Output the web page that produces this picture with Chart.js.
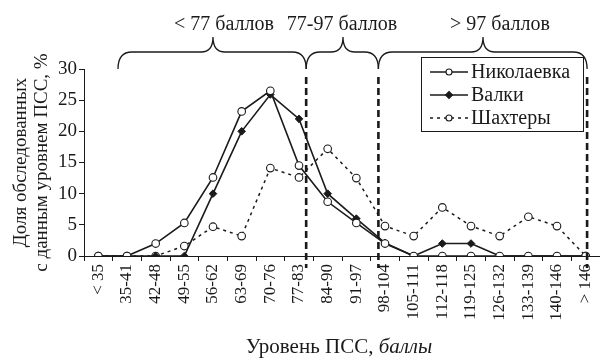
<!DOCTYPE html>
<html lang="ru">
<head>
  <meta charset="UTF-8">
  <title>Уровень ПСС</title>
  <script src="https://cdn.jsdelivr.net/npm/chart.js"></script>
  <style>
    body { margin: 0; background: #fff; }
    #wrap { width: 600px; height: 363px; }
  </style>
</head>
<body>
  <div id="wrap"><canvas id="chart" width="600" height="363"></canvas></div>

  <script>
    // данные
    const categories = ['< 35', '35-41', '42-48', '49-55', '56-62', '63-69', '70-76', '77-83', '84-90',
      '91-97', '98-104', '105-111', '112-118', '119-125', '126-132', '133-139', '140-146', '> 146'];
    const nikolaevka = [0, 0, 2.0, 5.3, 12.6, 23.2, 26.5, 14.5, 8.7, 5.3, 2.0, 0, 0, 0, 0, 0, 0, 0];
    const valki = [0, 0, 0, 0, 10.0, 20.0, 25.9, 22.0, 10.0, 6.0, 2.1, 0, 2.0, 2.0, 0, 0, 0, 0];
    const shakhtery = [0, 0, 0, 1.6, 4.7, 3.2, 14.1, 12.6, 17.2, 12.5, 4.8, 3.2, 7.8, 4.8, 3.2, 6.3, 4.8, 0];
    const seriesNames = ['Николаевка', 'Валки', 'Шахтеры'];
    const groupLabels = ['< 77 баллов', '77-97 баллов', '> 97 баллов'];
    const yTitle = ['Доля обследованных', 'с данным уровнем ПСС, %'];

    const FONT = "'Liberation Serif', 'Times New Roman', serif";
    const INK = '#1a1a1a';

    // скобки над графиком и пунктирные границы групп
    const groupsPlugin = {
      id: 'groups',
      afterDatasetsDraw(chart) {
        const ctx = chart.ctx;
        const x = chart.scales.x;
        const bounds = [7.25, 9.77, 17.05].map(v => x.getPixelForValue(v));
        ctx.save();
        ctx.strokeStyle = INK;
        ctx.lineWidth = 2.6;
        ctx.setLineDash([7, 4]);
        bounds.forEach(px => {
          ctx.beginPath();
          ctx.moveTo(px, 77);
          ctx.lineTo(px, 268);
          ctx.stroke();
        });
        ctx.restore();
      },
      afterDraw(chart) {
        const ctx = chart.ctx;
        const x = chart.scales.x;
        const b = [7.25, 9.77, 17.05].map(v => x.getPixelForValue(v));
        const left = 118;
        const spans = [[left, b[0]], [b[0], b[1]], [b[1], b[2]]];
        const tips = [213, 343, 483];
        const textX = [224, 342, 500];

        ctx.save();
        ctx.strokeStyle = INK;
        ctx.lineWidth = 1.3;
        spans.forEach(([x1, x2], i) => {
          const xt = tips[i], yTop = 52, yTip = 37, yEnd = 69, r = 14, r2 = 12;
          ctx.beginPath();
          ctx.moveTo(x1, yEnd);
          ctx.quadraticCurveTo(x1, yTop, x1 + r, yTop);
          ctx.lineTo(xt - r2, yTop);
          ctx.quadraticCurveTo(xt, yTop, xt, yTip);
          ctx.quadraticCurveTo(xt, yTop, xt + r2, yTop);
          ctx.lineTo(x2 - r, yTop);
          ctx.quadraticCurveTo(x2, yTop, x2, yEnd);
          ctx.stroke();
        });

        ctx.fillStyle = INK;
        ctx.font = '20px ' + FONT;
        ctx.textAlign = 'center';
        ctx.textBaseline = 'middle';
        groupLabels.forEach((t, i) => ctx.fillText(t, textX[i], 25));

        // подпись оси X: "баллы" курсивом
        const a = 'Уровень ПСС, ';
        const c = 'баллы';
        ctx.font = '21px ' + FONT;
        const wa = ctx.measureText(a).width;
        ctx.font = 'italic 21px ' + FONT;
        const wc = ctx.measureText(c).width;
        const sx = 339 - (wa + wc) / 2;
        ctx.textAlign = 'left';
        ctx.textBaseline = 'alphabetic';
        ctx.font = '21px ' + FONT;
        ctx.fillText(a, sx, 353);
        ctx.font = 'italic 21px ' + FONT;
        ctx.fillText(c, sx + wa, 353);

        // легенда
        const box = { l: 421, t: 57, r: 583, b: 131 };
        ctx.fillStyle = '#fff';
        ctx.fillRect(box.l, box.t, box.r - box.l, box.b - box.t);
        ctx.lineWidth = 1;
        ctx.strokeStyle = INK;
        ctx.strokeRect(box.l + 0.5, box.t + 0.5, box.r - box.l, box.b - box.t);
        const rows = [72, 95, 118];
        chart.data.datasets.forEach((ds, i) => {
          const y = rows[i];
          ctx.save();
          ctx.lineWidth = 1.5;
          ctx.setLineDash(ds.borderDash || []);
          ctx.beginPath();
          ctx.moveTo(430, y);
          ctx.lineTo(468, y);
          ctx.stroke();
          ctx.restore();
          ctx.setLineDash([]);
          ctx.lineWidth = 1.1;
          ctx.beginPath();
          if (ds.pointStyle === 'rectRot') {
            ctx.moveTo(449, y - 3.5);
            ctx.lineTo(452.5, y);
            ctx.lineTo(449, y + 3.5);
            ctx.lineTo(445.5, y);
            ctx.closePath();
            ctx.fillStyle = INK;
          } else {
            ctx.arc(449, y, 3, 0, Math.PI * 2);
            ctx.fillStyle = '#fff';
          }
          ctx.fill();
          ctx.stroke();
          ctx.fillStyle = INK;
          ctx.font = '20px ' + FONT;
          ctx.textBaseline = 'middle';
          ctx.fillText(ds.label, 471, y + 1);
        });
        ctx.restore();
      }
    };

    new Chart(document.getElementById('chart').getContext('2d'), {
      type: 'line',
      data: {
        labels: categories,
        datasets: [
          {
            label: seriesNames[0],
            data: nikolaevka,
            borderColor: INK,
            borderWidth: 1.6,
            pointStyle: 'circle',
            pointRadius: 3.8,
            pointBackgroundColor: '#fff',
            pointBorderColor: INK,
            pointBorderWidth: 1.1,
            tension: 0,
          },
          {
            label: seriesNames[1],
            data: valki,
            borderColor: INK,
            borderWidth: 1.6,
            pointStyle: 'rectRot',
            pointRadius: 3.8,
            pointBackgroundColor: INK,
            pointBorderColor: INK,
            pointBorderWidth: 1,
            tension: 0,
          },
          {
            label: seriesNames[2],
            data: shakhtery,
            borderColor: INK,
            borderWidth: 1.5,
            borderDash: [3, 4],
            pointStyle: 'circle',
            pointRadius: 3.8,
            pointBackgroundColor: '#fff',
            pointBorderColor: INK,
            pointBorderWidth: 1.1,
            tension: 0,
          },
        ],
      },
      options: {
        responsive: false,
        animation: false,
        layout: { autoPadding: false, padding: { top: 69, right: 0, left: 0, bottom: 0 } },
        plugins: {
          legend: { display: false },
          tooltip: { enabled: false },
        },
        scales: {
          x: {
            offset: true,
            border: { color: INK, width: 1 },
            grid: { drawOnChartArea: false, tickLength: 5, color: INK, offset: true },
            ticks: {
              color: INK,
              font: { family: FONT, size: 17 },
              minRotation: 90,
              maxRotation: 90,
              autoSkip: false,
              padding: 3,
            },
            afterFit(s) {
              s.height = 107;
              s.paddingLeft = 0;
              s.paddingRight = 0;
            },
          },
          y: {
            min: 0,
            max: 30,
            border: { color: INK, width: 1 },
            grid: { drawOnChartArea: false, tickLength: 5, color: INK },
            ticks: {
              stepSize: 5,
              color: INK,
              font: { family: FONT, size: 19 },
              padding: 2,
            },
            title: {
              display: true,
              text: yTitle,
              color: INK,
              font: { family: FONT, size: 19, lineHeight: 1.12 },
              padding: { top: 10, bottom: 0 },
            },
            afterFit(s) {
              s.width = 84;
            },
          },
        },
      },
      plugins: [groupsPlugin],
    });
  </script>
</body>
</html>
